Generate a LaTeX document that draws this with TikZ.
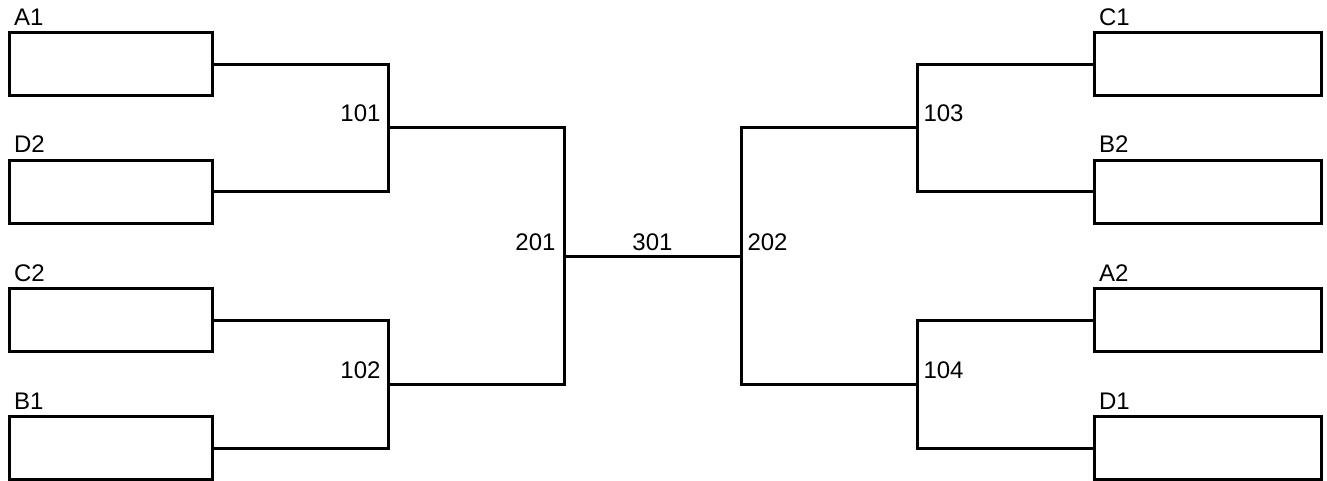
\documentclass[tikz,border=0pt]{standalone}
\usepackage{fontspec}
\setmainfont{Liberation Sans}
\usetikzlibrary{calc}

\begin{document}
\begin{tikzpicture}[x=1pt,y=-1pt,line width=3pt,
    leftbox/.style={draw,minimum width=203pt,minimum height=63pt,inner sep=0pt},
    rightbox/.style={draw,minimum width=227pt,minimum height=63pt,inner sep=0pt},
    team/.style={font=\fontsize{24}{24}\selectfont,inner sep=0pt,anchor=base west},
    game/.style={font=\fontsize{24}{24}\selectfont,inner sep=0pt}]
        \useasboundingbox (0,0) rectangle (1327,481);

        % boxes
        \node[leftbox] (A1) at (110.5,64.5) {};
        \node[leftbox] (D2) at (110.5,192) {};
        \node[leftbox] (C2) at (110.5,320) {};
        \node[leftbox] (B1) at (110.5,448) {};
        \node[rightbox] (C1) at (1207.5,64.5) {};
        \node[rightbox] (B2) at (1207.5,192) {};
        \node[rightbox] (A2) at (1207.5,320) {};
        \node[rightbox] (D1) at (1207.5,448) {};

        \foreach \t in {A1,D2,C2,B1,C1,B2,A2,D1}
            \node[team] (t\t) at ($(\t.north west)+(5,-6)$) {\t};

        % junctions
        \draw (388,128) coordinate (m101) node[above]{};
        \draw (388,384) coordinate (m102) node[above]{};
        \draw (917,128) coordinate (m103) node[above]{};
        \draw (917,384) coordinate (m104) node[above]{};
        \draw (564,256) coordinate (m201) node[above]{};
        \draw (741,256) coordinate (m202) node[above]{};

        \draw (A1.east) -- (A1.east -| m101) |- (D2.east);
        \draw (C2.east) -- (C2.east -| m102) |- (B1.east);
        \draw (C1.west) -- (C1.west -| m103) |- (B2.west);
        \draw (A2.west) -- (A2.west -| m104) |- (D1.west);

        \draw (m101) -| (m201) |- (m102);
        \draw (m103) -| (m202) |- (m104);
        \draw (m201) -- node[game,anchor=base,yshift=6pt](l301){301} (m202);

        \node[game,anchor=base east] (l101) at ($(m101)+(-6,-6)$) {101};
        \node[game,anchor=base east] (l102) at ($(m102)+(-6,-6)$) {102};
        \node[game,anchor=base east] (l201) at ($(m201)+(-7,-6)$) {201};
        \node[game,anchor=base west] (l202) at ($(m202)+(5,-6)$) {202};
        \node[game,anchor=base west] (l103) at ($(m103)+(5,-6)$) {103};
        \node[game,anchor=base west] (l104) at ($(m104)+(5,-6)$) {104};
    \end{tikzpicture}
\end{document}
